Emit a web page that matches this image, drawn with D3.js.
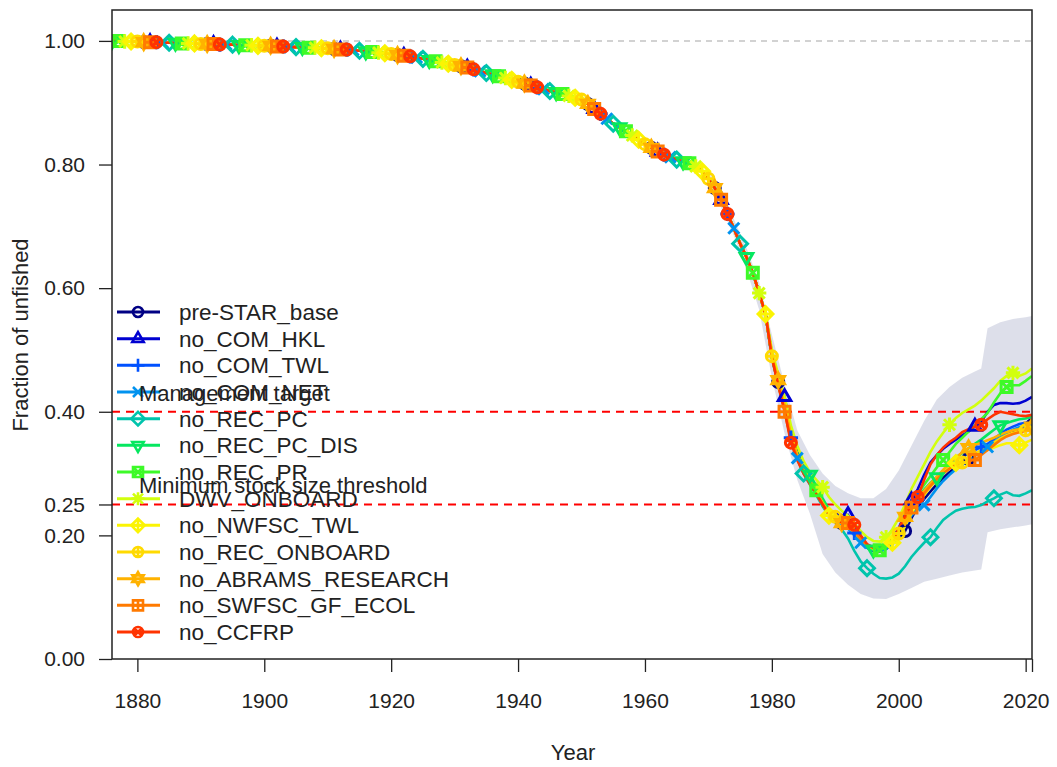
<!DOCTYPE html>
<html>
<head>
<meta charset="utf-8">
<script src="https://cdn.jsdelivr.net/npm/d3@7"></script>
<style>
body { margin: 0; background: #fff; }
svg { font-family: "Liberation Sans", Arial, sans-serif; }
</style>
</head>
<body>
<svg id="chart" width="1057" height="767"></svg>
<script>
// ---------------- data ----------------
const modelNames = ["pre-STAR_base", "no_COM_HKL", "no_COM_TWL", "no_COM_NET", "no_REC_PC",
    "no_REC_PC_DIS", "no_REC_PR", "DWV_ONBOARD", "no_NWFSC_TWL", "no_REC_ONBOARD",
    "no_ABRAMS_RESEARCH", "no_SWFSC_GF_ECOL", "no_CCFRP"]
const modelColors = ["#000084", "#0001D1", "#0051FF", "#0092EF", "#00C4AC", "#05E75F", "#3DFA28",
    "#D2FF0D", "#FBF403", "#FFDA01", "#FFB200", "#FF7A00", "#FF3300"]

// 1876-1979, all models almost identical
const yearsEarly = d3.range(1876, 1980)
const earlyShared = [
    1.000, 1.000, 0.999, 0.999, 0.999, 0.998, 0.998, 0.998, 0.997, 0.997,
    0.997, 0.996, 0.996, 0.996, 0.995, 0.995, 0.995, 0.994, 0.994, 0.994,
    0.993, 0.993, 0.993, 0.992, 0.992, 0.992, 0.991, 0.991, 0.990, 0.990,
    0.990, 0.989, 0.989, 0.988, 0.988, 0.987, 0.986, 0.986, 0.985, 0.984,
    0.983, 0.982, 0.981, 0.980, 0.979, 0.977, 0.976, 0.975, 0.973, 0.971,
    0.969, 0.967, 0.965, 0.963, 0.961, 0.959, 0.957, 0.954, 0.951, 0.948,
    0.946, 0.943, 0.940, 0.937, 0.934, 0.931, 0.928, 0.925, 0.922, 0.919,
    0.917, 0.914, 0.911, 0.908, 0.905, 0.898, 0.890, 0.882, 0.874, 0.866,
    0.860, 0.854, 0.847, 0.840, 0.833, 0.827, 0.821, 0.816, 0.812, 0.808,
    0.805, 0.802, 0.797, 0.789, 0.777, 0.762, 0.743, 0.720, 0.697, 0.672,
    0.650, 0.625, 0.592, 0.558]

// 1980-2021, one array per model
const yearsLate = d3.range(1980, 2022)
const preSTAR_base = [.492,.448,.410,.362,.330,.306,.288,.270,.252,.236,.228,.220,.213,.203,.190,.180,.175,.174,.178,.186,.196,.207,.228,.246,.259,.271,.283,.293,.302,.310,.316,.324,.330,.336,.342,.349,.357,.364,.369,.373,.375,.378]
const no_COM_HKL = [.495,.452,.424,.370,.335,.310,.290,.272,.255,.242,.235,.232,.233,.215,.196,.185,.180,.178,.183,.195,.212,.235,.257,.275,.298,.318,.330,.340,.348,.355,.362,.368,.376,.384,.400,.411,.414,.414,.413,.414,.418,.424]
const no_COM_TWL = [.488,.446,.408,.358,.326,.303,.285,.268,.250,.234,.227,.220,.214,.204,.191,.182,.177,.176,.180,.188,.201,.222,.243,.258,.268,.281,.293,.303,.312,.320,.326,.333,.338,.343,.348,.356,.364,.371,.376,.380,.382,.386]
const no_COM_NET = [.488,.445,.405,.355,.325,.302,.284,.267,.249,.233,.226,.218,.211,.200,.188,.180,.176,.175,.178,.186,.198,.215,.232,.243,.249,.262,.276,.288,.298,.307,.314,.322,.329,.336,.343,.351,.359,.366,.371,.375,.377,.380]
const no_REC_PC = [.488,.444,.405,.355,.323,.300,.282,.265,.247,.232,.222,.210,.195,.175,.158,.147,.138,.131,.130,.132,.138,.150,.165,.177,.188,.197,.212,.225,.233,.240,.243,.245,.246,.249,.255,.260,.266,.270,.265,.264,.268,.273]
const no_REC_PC_DIS = [.490,.447,.410,.362,.330,.310,.298,.280,.260,.242,.232,.224,.217,.206,.192,.182,.177,.176,.180,.190,.204,.225,.247,.262,.274,.285,.294,.305,.316,.326,.333,.341,.348,.355,.363,.371,.378,.382,.385,.388,.389,.392]
const no_REC_PR = [.492,.449,.413,.364,.332,.308,.289,.273,.255,.238,.230,.222,.216,.206,.193,.182,.177,.176,.182,.192,.208,.230,.252,.268,.282,.296,.310,.322,.335,.348,.358,.368,.378,.388,.398,.415,.430,.440,.443,.443,.450,.458]
const DWV_ONBOARD = [.500,.460,.425,.378,.345,.320,.302,.290,.278,.262,.250,.240,.232,.220,.207,.197,.191,.190,.197,.210,.228,.250,.275,.295,.315,.335,.352,.366,.379,.390,.398,.404,.410,.418,.428,.438,.450,.458,.463,.458,.462,.470]
const no_NWFSC_TWL = [.494,.450,.412,.362,.330,.307,.288,.270,.251,.232,.226,.220,.214,.204,.192,.183,.179,.179,.183,.188,.198,.215,.236,.252,.265,.279,.292,.302,.310,.317,.322,.327,.331,.335,.338,.342,.346,.349,.349,.346,.350,.355]
const no_REC_ONBOARD = [.490,.447,.410,.361,.329,.306,.287,.270,.252,.237,.230,.222,.216,.206,.193,.184,.180,.179,.183,.191,.203,.222,.242,.256,.266,.279,.290,.300,.308,.315,.318,.326,.332,.338,.344,.350,.357,.362,.366,.368,.370,.374]
const no_ABRAMS_RESEARCH = [.492,.451,.412,.362,.330,.306,.287,.270,.252,.236,.228,.220,.214,.205,.192,.184,.180,.180,.185,.195,.210,.230,.248,.261,.272,.284,.295,.306,.317,.326,.334,.341,.346,.350,.354,.358,.363,.367,.370,.372,.373,.376]
const no_SWFSC_GF_ECOL = [.488,.444,.400,.354,.325,.303,.285,.268,.250,.234,.227,.221,.220,.208,.194,.184,.180,.180,.185,.194,.208,.228,.245,.258,.268,.280,.291,.300,.308,.314,.318,.320,.322,.330,.338,.346,.354,.360,.364,.367,.369,.372]
const no_CCFRP = [.488,.442,.402,.350,.322,.300,.283,.267,.250,.234,.227,.221,.218,.217,.200,.186,.180,.179,.184,.193,.210,.232,.250,.262,.290,.315,.330,.342,.351,.358,.367,.372,.376,.379,.388,.395,.400,.398,.396,.394,.393,.395]

// uncertainty interval of pre-STAR_base
const bandYears = [1970,1972,1974,1976,1978,1980,1982,1984,1986,1988,1990,1992,1994,1996,1998,2000,2002,2004,2006,2008,2010,2012,2013,2014,2016,2018,2020,2021]
const bandLow = [.765,.730,.685,.630,.565,.455,.365,.290,.235,.170,.140,.120,.105,.098,.097,.105,.115,.125,.130,.135,.140,.143,.145,.205,.210,.213,.216,.218]
const bandHigh = [.790,.757,.712,.665,.610,.525,.445,.370,.330,.300,.280,.268,.260,.260,.275,.305,.345,.385,.420,.440,.455,.465,.470,.535,.545,.550,.553,.555]

const refLines = [0.40, 0.25]
const refLabels = ["Management target", "Minimum stock size threshold"]
const xTicks = [1880, 1900, 1920, 1940, 1960, 1980, 2000, 2020, 2021]
const yTicks = [0, 0.20, 0.25, 0.40, 0.60, 0.80, 1.00]

const lateValues = [preSTAR_base, no_COM_HKL, no_COM_TWL, no_COM_NET, no_REC_PC, no_REC_PC_DIS,
    no_REC_PR, DWV_ONBOARD, no_NWFSC_TWL, no_REC_ONBOARD, no_ABRAMS_RESEARCH, no_SWFSC_GF_ECOL, no_CCFRP]

const years = yearsEarly.concat(yearsLate)
const series = modelNames.map(function (n, i) {
    const vals = earlyShared.concat(lateValues[i])
    return {
        name: n, color: modelColors[i], pch: i + 1,
        pts: years.map((yr, k) => ({ yr: yr, v: vals[k] }))
    }
})

// ---------------- symbols (R pch 1..13) ----------------
function pchPath(p, s) {
    const circ = r => `M${-r},0A${r},${r},0,1,0,${r},0A${r},${r},0,1,0,${-r},0`
    const plus = r => `M${-r},0H${r}M0,${-r}V${r}`
    const cross = r => `M${-r},${-r}L${r},${r}M${-r},${r}L${r},${-r}`
    const sq = r => `M${-r},${-r}H${r}V${r}H${-r}Z`
    const dia = r => `M0,${-r}L${r},0L0,${r}L${-r},0Z`
    const up = r => `M0,${-r * 1.1}L${r * 0.95},${r * 0.55}L${-r * 0.95},${r * 0.55}Z`
    const dn = r => `M0,${r * 1.1}L${r * 0.95},${-r * 0.55}L${-r * 0.95},${-r * 0.55}Z`
    switch (p) {
        case 1: return circ(s)
        case 2: return up(s * 1.2)
        case 3: return plus(s * 1.3)
        case 4: return cross(s)
        case 5: return dia(s * 1.35)
        case 6: return dn(s * 1.2)
        case 7: return sq(s) + cross(s)
        case 8: return plus(s * 1.3) + cross(s)
        case 9: return dia(s * 1.35) + plus(s * 1.35)
        case 10: return circ(s) + plus(s)
        case 11: return up(s * 1.2) + dn(s * 1.2)
        case 12: return sq(s) + plus(s)
        case 13: return circ(s) + cross(s * 0.7)
    }
}

// ---------------- drawing ----------------
const svg = d3.select("#chart")
const mLeft = 112, mRight = 1032, mTop = 10, mBottom = 659

const x = d3.scaleLinear().domain([1876, 2021]).range([mLeft, mRight])
const y = d3.scaleLinear().domain([0, 1.05]).range([mBottom, mTop])

svg.append("defs").append("clipPath").attr("id", "clip")
    .append("rect").attr("x", mLeft).attr("y", mTop).attr("width", mRight - mLeft).attr("height", mBottom - mTop)
const plot = svg.append("g").attr("clip-path", "url(#clip)")

// band
const area = d3.area().x((d, i) => x(bandYears[i])).y0((d, i) => y(bandLow[i])).y1((d, i) => y(bandHigh[i]))
plot.append("path").datum(bandYears).attr("d", area)
    .attr("fill", "#4a5690").attr("fill-opacity", 0.19).attr("stroke", "none")

// reference lines
plot.append("line").attr("x1", mLeft).attr("x2", mRight).attr("y1", y(1)).attr("y2", y(1))
    .attr("stroke", "#c4c4c4").attr("stroke-width", 1.5).attr("stroke-dasharray", "6,5")
refLines.forEach(function (v) {
    plot.append("line").attr("x1", mLeft).attr("x2", mRight).attr("y1", y(v)).attr("y2", y(v))
        .attr("stroke", "#ff0000").attr("stroke-width", 2).attr("stroke-dasharray", "8,6")
})

// lines
const line = d3.line().x(d => x(d.yr)).y(d => y(d.v)).curve(d3.curveLinear)
series.forEach(function (s) {
    plot.append("path").datum(s.pts).attr("d", line)
        .attr("fill", "none").attr("stroke", s.color).attr("stroke-width", 2.6)
})

// points every 10 years, staggered by model
series.forEach(function (s) {
    const marks = s.pts.filter(d => d.yr % 10 === s.pch % 10)
    plot.selectAll(null).data(marks).enter().append("path")
        .attr("transform", d => `translate(${x(d.yr)},${y(d.v)})`)
        .attr("d", pchPath(s.pch, 5.5))
        .attr("fill", "none").attr("stroke", s.color).attr("stroke-width", 3)
})

// axes
const xAxis = svg.append("g").attr("transform", `translate(0,${mBottom})`)
    .call(d3.axisBottom(x).tickValues(xTicks).tickFormat(d => d === 2021 ? "" : d).tickSize(13).tickPadding(21))
xAxis.select(".domain").remove()
xAxis.selectAll("line").attr("stroke", "#222").attr("stroke-width", 1.3)
xAxis.selectAll("text").attr("font-size", 21).attr("fill", "#222").style("font-family", "Liberation Sans, Arial, sans-serif")

const yAxis = svg.append("g").attr("transform", `translate(${mLeft},0)`)
    .call(d3.axisLeft(y).tickValues(yTicks).tickFormat(d3.format(".2f")).tickSize(13).tickPadding(14))
yAxis.select(".domain").remove()
yAxis.selectAll("line").attr("stroke", "#222").attr("stroke-width", 1.3)
yAxis.selectAll("text").attr("font-size", 21).attr("fill", "#222").style("font-family", "Liberation Sans, Arial, sans-serif")

svg.append("rect").attr("x", mLeft).attr("y", mTop).attr("width", mRight - mLeft).attr("height", mBottom - mTop)
    .attr("fill", "none").attr("stroke", "#222").attr("stroke-width", 1.5)

svg.append("text").attr("x", 573).attr("y", 760).attr("text-anchor", "middle")
    .attr("font-size", 22).attr("fill", "#222").text("Year")
svg.append("text").attr("transform", "translate(28,335) rotate(-90)").attr("text-anchor", "middle")
    .attr("font-size", 22).attr("fill", "#222").text("Fraction of unfished")

// legend (no box, drawn over the plot like the original)
const legY = d3.scaleLinear().domain([0, 12]).range([312, 632])
const leg = svg.append("g")
series.forEach(function (s, i) {
    const g = leg.append("g").attr("transform", `translate(0,${legY(i)})`)
    g.append("line").attr("x1", 117).attr("x2", 160).attr("y1", 0).attr("y2", 0)
        .attr("stroke", s.color).attr("stroke-width", 3)
    g.append("path").attr("transform", "translate(138,0)").attr("d", pchPath(s.pch, 5))
        .attr("fill", "none").attr("stroke", s.color).attr("stroke-width", 2.6)
    g.append("text").attr("x", 179).attr("y", 8).attr("font-size", 22.5).attr("fill", "#222").text(s.name)
})

// reference labels
refLines.forEach(function (v, i) {
    svg.append("text").attr("x", 139).attr("y", y(v) - 11).attr("font-size", 22)
        .attr("fill", "#222").text(refLabels[i])
})
</script>
</body>
</html>
